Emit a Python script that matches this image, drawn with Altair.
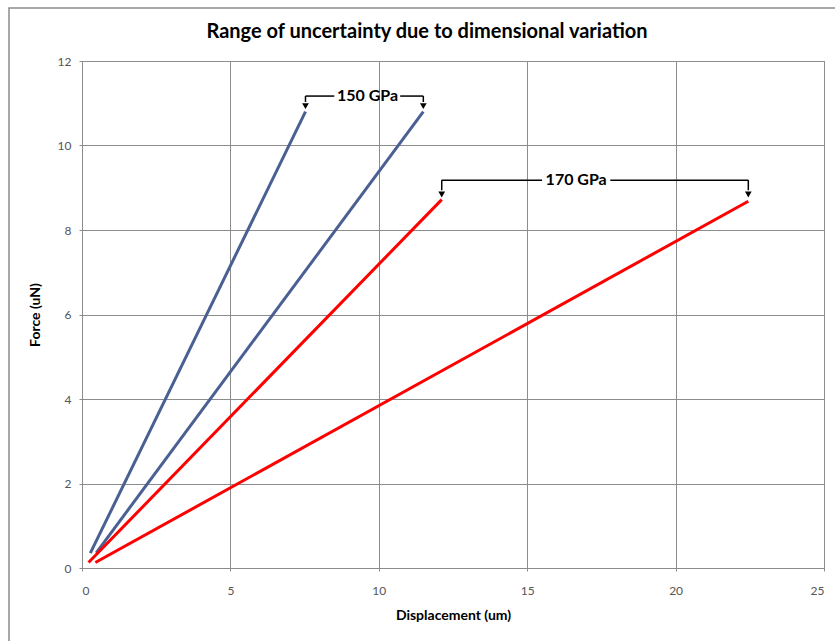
import altair as alt
import pandas as pd

# ---- data ----
series_names = ["150 GPa (a)", "150 GPa (b)", "170 GPa (a)", "170 GPa (b)"]
series_colors = ["#4A6092", "#4A6092", "#FF0000", "#FF0000"]
disp_150a = [0.28, 7.53]
force_150a = [0.35, 10.80]
disp_150b = [0.48, 11.50]
force_150b = [0.36, 10.80]
disp_170a = [0.22, 12.12]
force_170a = [0.13, 8.72]
disp_170b = [0.45, 22.45]
force_170b = [0.13, 8.68]

x_ticks = [0, 5, 10, 15, 20, 25]
y_ticks = [0, 2, 4, 6, 8, 10, 12]

chart_title = "Range of uncertainty due to dimensional variation"

# annotation brackets
ann_labels = ["150 GPa", "170 GPa"]
ann_label_x = [9.62, 16.65]
ann_bracket_y = [11.17, 9.18]
ann_tip_y = [10.93, 8.84]
ann_left_x = [7.53, 12.12]
ann_right_x = [11.50, 22.45]
ann_gap_left = [8.50, 15.50]
ann_gap_right = [10.72, 17.80]

rows = []
for name, xs, ys in zip(series_names,
                        [disp_150a, disp_150b, disp_170a, disp_170b],
                        [force_150a, force_150b, force_170a, force_170b]):
    for i, (xv, yv) in enumerate(zip(xs, ys)):
        rows.append({"series": name, "disp": xv, "force": yv, "order": i})
df = pd.DataFrame(rows)

seg_rows = []
tip_rows = []
lab_rows = []
for k in range(len(ann_labels)):
    by = ann_bracket_y[k]
    ty = ann_tip_y[k]
    seg_rows.append({"x": ann_left_x[k], "x2": ann_gap_left[k], "y": by, "y2": by})
    seg_rows.append({"x": ann_gap_right[k], "x2": ann_right_x[k], "y": by, "y2": by})
    seg_rows.append({"x": ann_left_x[k], "x2": ann_left_x[k], "y": by, "y2": ty + 0.1})
    seg_rows.append({"x": ann_right_x[k], "x2": ann_right_x[k], "y": by, "y2": ty + 0.1})
    tip_rows.append({"x": ann_left_x[k], "y": ty})
    tip_rows.append({"x": ann_right_x[k], "y": ty})
    lab_rows.append({"x": ann_label_x[k], "y": by, "label": ann_labels[k]})
seg_df = pd.DataFrame(seg_rows)
tip_df = pd.DataFrame(tip_rows)
lab_df = pd.DataFrame(lab_rows)

FONT = "Lato"
GRID = "#8C8C8C"

xscale = alt.Scale(domain=[0, 25], nice=False, zero=True)
yscale = alt.Scale(domain=[0, 12], nice=False, zero=True)

lines = alt.Chart(df).mark_line(strokeWidth=3, clip=False).encode(
    x=alt.X("disp:Q", scale=xscale,
            axis=alt.Axis(values=x_ticks, title="Displacement (um)", grid=True,
                          gridColor=GRID, gridOpacity=1, domainColor=GRID,
                          tickColor=GRID, tickSize=3, labelPadding=14,
                          labelFont=FONT, labelFontSize=12, labelColor="#555555",
                          titleFont=FONT, titleFontSize=14, titleFontWeight="bold",
                          titleColor="#000000", titlePadding=12)),
    y=alt.Y("force:Q", scale=yscale,
            axis=alt.Axis(values=y_ticks, title="Force (uN)", grid=True,
                          gridColor=GRID, gridOpacity=1, domainColor=GRID,
                          tickColor=GRID, tickSize=3, labelPadding=8,
                          labelFont=FONT, labelFontSize=12, labelColor="#555555",
                          titleFont=FONT, titleFontSize=14, titleFontWeight="bold",
                          titleColor="#000000", titlePadding=15)),
    color=alt.Color("series:N", scale=alt.Scale(domain=series_names, range=series_colors),
                    legend=None),
    detail="series:N",
    order="order:Q",
)

segs = alt.Chart(seg_df).mark_rule(color="black", strokeWidth=1.5).encode(
    x=alt.X("x:Q", scale=xscale), x2="x2:Q",
    y=alt.Y("y:Q", scale=yscale), y2="y2:Q",
)

tips = alt.Chart(tip_df).mark_point(shape="triangle-down", filled=True, color="black",
                                    opacity=1, size=45).encode(
    x=alt.X("x:Q", scale=xscale), y=alt.Y("y:Q", scale=yscale),
)

labels = alt.Chart(lab_df).mark_text(font=FONT, fontSize=16, fontWeight="bold",
                                     color="black", baseline="middle", align="center").encode(
    x=alt.X("x:Q", scale=xscale), y=alt.Y("y:Q", scale=yscale), text="label:N",
)

frame_df = pd.DataFrame({"title": [chart_title]})

frame = alt.Chart(frame_df).mark_rect(
    fill=None, stroke="#8C8C8C", strokeWidth=1.5, clip=False
).encode(x=alt.value(-73), x2=alt.value(780), y=alt.value(-53), y2=alt.value(620))

title_text = alt.Chart(frame_df).mark_text(
    font=FONT, fontSize=20, fontWeight="bold", color="#000000",
    align="center", baseline="middle", clip=False
).encode(x=alt.value(345), y=alt.value(-29), text="title:N")

chart = alt.layer(frame, lines, segs, tips, labels, title_text).properties(
    width=742,
    height=507,
    autosize=alt.AutoSizeParams(type="none"),
    padding={"left": 82, "top": 61, "right": 11, "bottom": 73},
    background="white",
).configure_view(stroke=GRID, strokeWidth=1)

chart.save("out.html", embed_options={"renderer": "svg", "actions": False})
